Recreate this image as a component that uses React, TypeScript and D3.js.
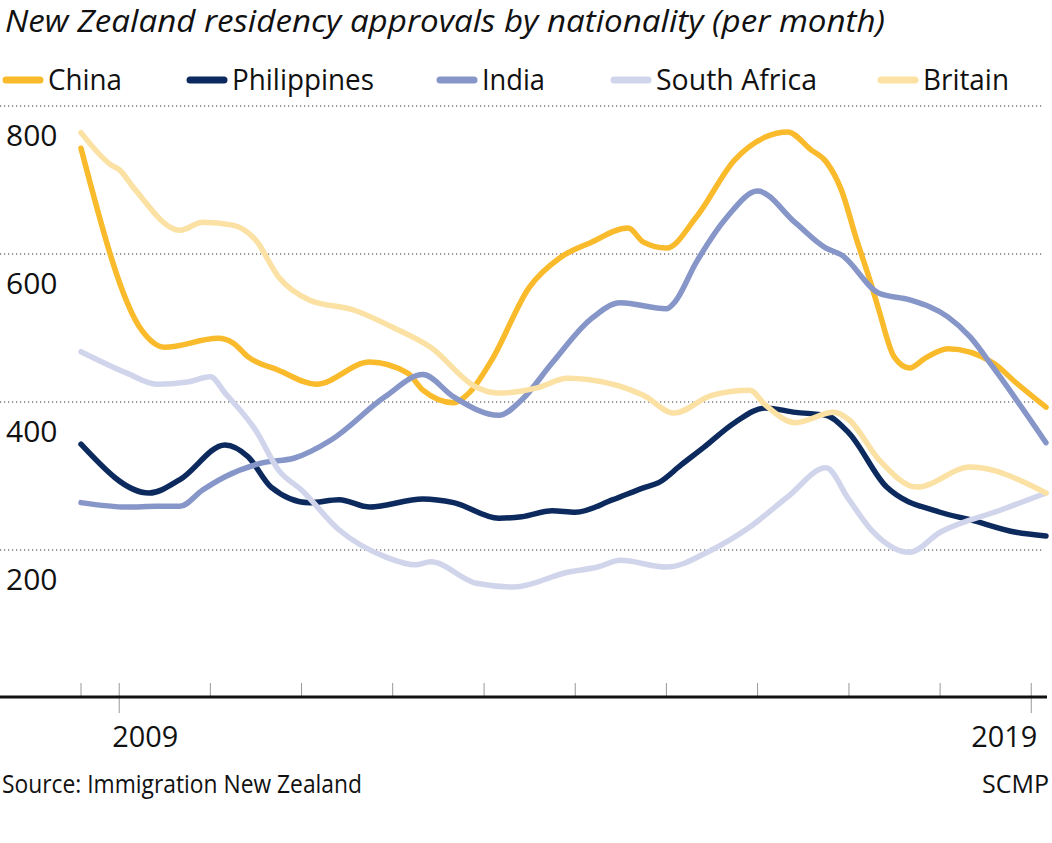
import React from "react";
import * as d3 from "d3";

const TITLE = "New Zealand residency approvals by nationality (per month)";
const SOURCE = "Source: Immigration New Zealand";
const CREDIT = "SCMP";

const seriesNames = ["China", "Philippines", "India", "South Africa", "Britain"];
const seriesColors = ["#F9BA2B", "#0C2A5E", "#8796C8", "#D0D5EB", "#FBE1A3"];

const yTicks = [200, 400, 600, 800];
const yearTicks = ["2009", "2010", "2011", "2012", "2013", "2014", "2015", "2016", "2017", "2018", "2019"];
const labelledYears = ["2009", "2019"];

const china: [string, number][] = [
  ["2008-08", 743], ["2009-04", 497], ["2009-07", 474], ["2010-02", 486], ["2010-04", 480],
  ["2010-06", 461], ["2010-10", 443], ["2011-03", 424], ["2011-10", 454], ["2012-03", 439],
  ["2012-05", 416], ["2012-09", 399], ["2012-11", 412], ["2013-02", 457], ["2013-07", 555],
  ["2013-11", 595], ["2014-03", 615], ["2014-08", 635], ["2014-10", 616], ["2015-01", 608],
  ["2015-05", 650], ["2015-10", 727], ["2016-02", 758], ["2016-05", 765], ["2016-08", 741],
  ["2016-10", 725], ["2016-12", 687], ["2017-02", 619], ["2017-04", 558], ["2017-05", 524],
  ["2017-07", 461], ["2017-09", 446], ["2017-11", 459], ["2018-02", 472], ["2018-08", 453],
  ["2018-11", 426], ["2019-03", 393],
];

const philippines: [string, number][] = [
  ["2008-08", 343], ["2009-05", 277], ["2009-09", 295], ["2010-03", 342], ["2010-06", 326],
  ["2010-09", 285], ["2011-02", 264], ["2011-06", 268], ["2011-10", 258], ["2012-05", 269],
  ["2012-09", 264], ["2013-03", 243], ["2013-06", 245], ["2013-10", 253], ["2014-01", 251],
  ["2014-06", 268], ["2014-10", 284], ["2014-12", 291], ["2015-03", 315], ["2015-06", 339],
  ["2015-10", 372], ["2016-02", 392], ["2016-06", 386], ["2016-10", 382], ["2017-01", 358],
  ["2017-06", 285], ["2018-01", 251], ["2018-05", 241], ["2018-11", 224], ["2019-03", 219],
];

const india: [string, number][] = [
  ["2008-08", 264], ["2009-02", 258], ["2009-06", 259], ["2009-09", 259], ["2009-12", 281],
  ["2010-03", 299], ["2010-08", 318], ["2010-12", 324], ["2011-05", 349], ["2011-12", 407],
  ["2012-05", 437], ["2012-09", 407], ["2013-03", 382], ["2013-06", 403], ["2013-10", 453],
  ["2014-03", 511], ["2014-07", 534], ["2015-01", 526], ["2015-02", 534], ["2015-05", 589],
  ["2015-09", 650], ["2016-01", 685], ["2016-06", 642], ["2016-10", 608], ["2016-12", 599],
  ["2017-05", 547], ["2017-09", 538], ["2018-02", 515], ["2018-05", 488], ["2018-08", 447],
  ["2019-03", 345],
];

const southAfrica: [string, number][] = [
  ["2008-08", 468], ["2009-02", 439], ["2009-06", 424], ["2009-10", 427], ["2010-01", 434],
  ["2010-03", 412], ["2010-07", 362], ["2010-10", 308], ["2011-01", 281], ["2011-06", 227],
  ["2011-12", 191], ["2012-04", 180], ["2012-06", 184], ["2012-12", 155], ["2013-05", 150],
  ["2013-12", 170], ["2014-04", 177], ["2014-07", 186], ["2015-01", 177], ["2015-07", 200],
  ["2015-12", 231], ["2016-05", 272], ["2016-10", 311], ["2017-01", 268], ["2017-04", 227],
  ["2017-09", 197], ["2018-01", 224], ["2018-09", 254], ["2019-03", 277],
];

const britain: [string, number][] = [
  ["2008-08", 764], ["2008-12", 720], ["2009-01", 714], ["2009-03", 689], ["2009-09", 632],
  ["2009-12", 643], ["2010-04", 639], ["2010-07", 619], ["2010-10", 569], ["2011-02", 538],
  ["2011-08", 524], ["2012-01", 501], ["2012-06", 474], ["2012-12", 420], ["2013-03", 412],
  ["2013-08", 419], ["2013-12", 432], ["2014-03", 430], ["2014-10", 409], ["2015-02", 385],
  ["2015-07", 409], ["2015-12", 416], ["2016-02", 396], ["2016-06", 372], ["2016-11", 386],
  ["2017-01", 376], ["2017-05", 322], ["2017-10", 285], ["2018-05", 312], ["2019-03", 277],
];

const allSeries = [china, philippines, india, southAfrica, britain];

// layout
const W = 1052;
const H = 843;
const FONT = "'Open Sans', 'DejaVu Sans', sans-serif";
const legendX = [3, 187, 437, 611, 878];
const legendTextW = [74, 142, 63, 161, 86];

export default function App() {
  const parse = d3.timeParse("%Y-%m");
  const x = d3
    .scaleTime()
    .domain([parse("2008-08")!, parse("2019-03")!])
    .range([81, 1046]);
  const y = d3.scaleLinear().domain([0, 800]).range([698, 106]);

  const line = d3
    .line<[string, number]>()
    .x((d) => x(parse(d[0])!))
    .y((d) => y(d[1]))
    .curve(d3.curveMonotoneX);

  const axisY = y(0) - 1;
  const startTick = x(parse("2008-08")!);

  return (
    <div style={{ position: "absolute", left: 0, top: 0 }}>
      <svg width={W} height={H} style={{ display: "block", background: "#fff" }}>
        <text
          x={5}
          y={32}
          fontFamily={FONT}
          fontStyle="italic"
          fontSize={31}
          fill="#111"
          textLength={880}
          lengthAdjust="spacingAndGlyphs"
        >
          {TITLE}
        </text>
        {seriesNames.map((n, i) => (
          <g key={n} transform={`translate(${legendX[i]},80)`}>
            <line x1={3} x2={37} y1={0} y2={0} stroke={seriesColors[i]} strokeWidth={7} strokeLinecap="round" />
            <text
              x={45}
              y={10}
              fontFamily={FONT}
              fontSize={30}
              fill="#111"
              textLength={legendTextW[i]}
              lengthAdjust="spacingAndGlyphs"
            >
              {n}
            </text>
          </g>
        ))}
        {yTicks.map((t) => (
          <line
            key={"g" + t}
            x1={0}
            x2={1043}
            y1={y(t)}
            y2={y(t)}
            stroke="#333"
            strokeWidth={1.2}
            strokeDasharray="1.2,2.8"
          />
        ))}
        {yTicks.map((t) => (
          <text key={"l" + t} x={6} y={y(t) + 40} fontFamily={FONT} fontSize={30} fill="#111">
            {t}
          </text>
        ))}
        {allSeries.map((s, i) => (
          <path
            key={seriesNames[i]}
            d={line(s) || ""}
            fill="none"
            stroke={seriesColors[i]}
            strokeWidth={5.5}
            strokeLinecap="round"
            strokeLinejoin="round"
          />
        ))}
        <line x1={startTick} x2={startTick} y1={axisY - 14} y2={axisY} stroke="#999" strokeWidth={1} />
        {yearTicks.map((yr) => {
          const xx = x(parse(yr + "-01")!);
          const long = labelledYears.includes(yr);
          return (
            <line
              key={"t" + yr}
              x1={xx}
              x2={xx}
              y1={axisY - 14}
              y2={long ? axisY + 16 : axisY}
              stroke="#999"
              strokeWidth={1}
            />
          );
        })}
        <line x1={0} x2={1047} y1={axisY} y2={axisY} stroke="#111" strokeWidth={3} />
        {labelledYears.map((yr, i) => {
          const xx = x(parse(yr + "-01")!);
          return (
            <text
              key={"y" + yr}
              x={i === 0 ? xx - 7 : xx + 6}
              y={747}
              textAnchor={i === 0 ? "start" : "end"}
              fontFamily={FONT}
              fontSize={30}
              fill="#111"
              textLength={66}
              lengthAdjust="spacingAndGlyphs"
            >
              {yr}
            </text>
          );
        })}
        <text
          x={2}
          y={793}
          fontFamily={FONT}
          fontSize={25}
          fill="#111"
          textLength={360}
          lengthAdjust="spacingAndGlyphs"
        >
          {SOURCE}
        </text>
        <text
          x={1049}
          y={793}
          textAnchor="end"
          fontFamily={FONT}
          fontSize={25}
          fill="#111"
        >
          {CREDIT}
        </text>
      </svg>
    </div>
  );
}
